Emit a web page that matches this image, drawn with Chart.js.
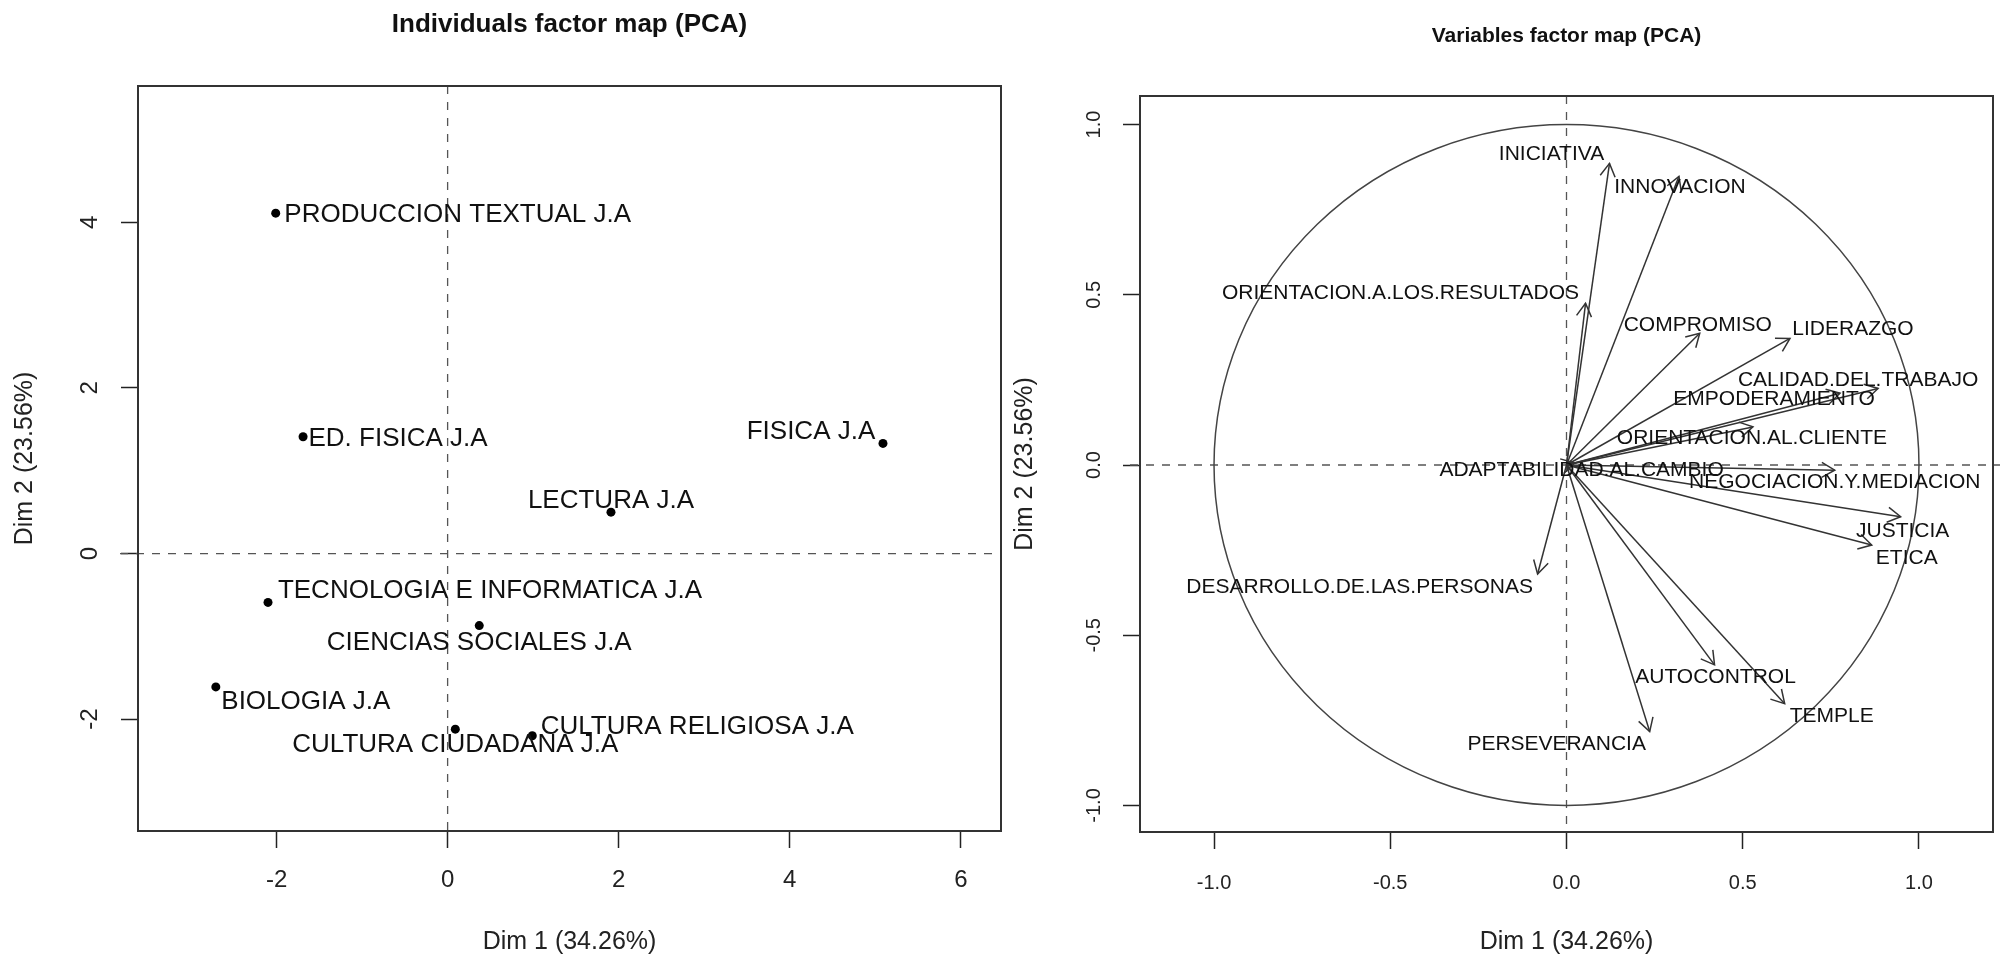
<!DOCTYPE html>
<html>
<head>
<meta charset="utf-8">
<script src="https://cdn.jsdelivr.net/npm/chart.js@4.4.1/dist/chart.umd.min.js"></script>
<style>
  html, body { margin: 0; padding: 0; background: #fff; }
  body { width: 2000px; height: 959px; position: relative; overflow: hidden; }
  .panel { position: absolute; top: 0; }
  #leftPanel { left: 0; }
  #rightPanel { left: 1000px; }
</style>
</head>
<body>
<div class="panel" id="leftPanel"><canvas id="indChart" width="1010" height="959"></canvas></div>
<div class="panel" id="rightPanel"><canvas id="varChart" width="1000" height="959"></canvas></div>
<script>
// individuals (left map)
const indNames = ['PRODUCCION TEXTUAL J.A', 'ED. FISICA J.A', 'FISICA J.A', 'LECTURA J.A',
    'TECNOLOGIA E INFORMATICA J.A', 'CIENCIAS SOCIALES J.A', 'BIOLOGIA J.A',
    'CULTURA CIUDADANA J.A', 'CULTURA RELIGIOSA J.A'];
const indDim1 = [-2.01, -1.69, 5.09, 1.91, -2.10, 0.37, -2.71, 0.09, 0.99];
const indDim2 = [4.11, 1.41, 1.33, 0.50, -0.59, -0.87, -1.61, -2.12, -2.20];
const indXTicks = [-2, 0, 2, 4, 6];
const indYTicks = [-2, 0, 2, 4];

// variables (right map)
const varNames = ['INICIATIVA', 'INNOVACION', 'ORIENTACION.A.LOS.RESULTADOS', 'COMPROMISO',
    'LIDERAZGO', 'CALIDAD.DEL.TRABAJO', 'EMPODERAMIENTO', 'ORIENTACION.AL.CLIENTE',
    'ADAPTABILIDAD.AL.CAMBIO', 'NEGOCIACION.Y.MEDIACION', 'JUSTICIA', 'ETICA',
    'DESARROLLO.DE.LAS.PERSONAS', 'AUTOCONTROL', 'TEMPLE', 'PERSEVERANCIA'];
const varDim1 = [0.122, 0.319, 0.054, 0.378, 0.634, 0.884, 0.776, 0.529,
    0.023, 0.761, 0.948, 0.866, -0.082, 0.420, 0.619, 0.236];
const varDim2 = [0.886, 0.848, 0.475, 0.387, 0.372, 0.225, 0.211, 0.112,
    0.006, -0.015, -0.152, -0.235, -0.320, -0.587, -0.701, -0.783];
const varXTicks = [-1, -0.5, 0, 0.5, 1];
const varYTicks = [-1, -0.5, 0, 0.5, 1];

// label placement, in pixels from the mark
const indLabelShift = [[182, 2], [95, 2], [-72, -12], [0, -11], [222, -12], [0, 17], [90, 15], [0, 16], [165, -9]];
const varLabelShift = [[-58, -9], [1, 11], [-185, -10], [-2, -8], [63, -9], [-20, -8], [-66, 6], [-1, 11],
    [7, 7], [0, 12], [2, 14], [35, 13], [-178, 13], [1, 12], [47, 13], [-93, 13]];

const FONT = '"Liberation Sans", Arial, Helvetica, sans-serif';
const INK = '#222';

function makeDecor(cfg) {
    return {
        id: 'decor',
        beforeDatasetsDraw(chart) {
            const {ctx, chartArea: a, scales: {x, y}} = chart;
            const x0 = x.getPixelForValue(0), y0 = y.getPixelForValue(0);
            ctx.save();
            ctx.strokeStyle = '#555';
            ctx.lineWidth = 1.3;
            ctx.setLineDash([8, 8]);
            ctx.beginPath();
            ctx.moveTo(x0, a.top);
            ctx.lineTo(x0, a.bottom);
            ctx.moveTo(a.left - cfg.hLeft, y0);
            ctx.lineTo(a.right + cfg.hRight, y0);
            ctx.stroke();
            ctx.setLineDash([]);
            if (cfg.circle) {
                const rx = x.getPixelForValue(1) - x0;
                const ry = y0 - y.getPixelForValue(1);
                ctx.strokeStyle = '#444';
                ctx.lineWidth = 1.5;
                ctx.beginPath();
                ctx.ellipse(x0, y0, rx, ry, 0, 0, Math.PI * 2);
                ctx.stroke();
            }
            ctx.restore();
        },
        afterDraw(chart) {
            const {ctx, chartArea: a, scales: {y}} = chart;
            ctx.save();
            // frame
            ctx.strokeStyle = '#333';
            ctx.lineWidth = 2;
            ctx.strokeRect(a.left, a.top, a.right - a.left, a.bottom - a.top);
            // title
            ctx.fillStyle = '#111';
            ctx.textAlign = 'center';
            ctx.textBaseline = 'middle';
            ctx.font = 'bold ' + cfg.titleSize + 'px ' + FONT;
            ctx.fillText(cfg.title, (a.left + a.right) / 2, cfg.titleY);
            // y tick labels, written along the axis
            ctx.fillStyle = INK;
            ctx.font = cfg.tickSize + 'px ' + FONT;
            cfg.yTicks.forEach(v => {
                ctx.save();
                ctx.translate(cfg.yLabelX, y.getPixelForValue(v));
                ctx.rotate(-Math.PI / 2);
                ctx.fillText(cfg.fmt(v), 0, 0);
                ctx.restore();
            });
            // arrow heads
            if (cfg.arrows) {
                ctx.strokeStyle = '#333';
                ctx.lineWidth = 1.5;
                chart.data.datasets.forEach((ds, i) => {
                    const pts = chart.getDatasetMeta(i).data;
                    const p0 = pts[0], p1 = pts[1];
                    const ang = Math.atan2(p1.y - p0.y, p1.x - p0.x);
                    const len = 15, spread = Math.PI / 6;
                    ctx.beginPath();
                    ctx.moveTo(p1.x - len * Math.cos(ang - spread), p1.y - len * Math.sin(ang - spread));
                    ctx.lineTo(p1.x, p1.y);
                    ctx.lineTo(p1.x - len * Math.cos(ang + spread), p1.y - len * Math.sin(ang + spread));
                    ctx.stroke();
                });
            }
            // mark labels
            ctx.fillStyle = '#111';
            ctx.font = cfg.labelSize + 'px ' + FONT;
            cfg.names.forEach((name, i) => {
                const el = cfg.arrows ? chart.getDatasetMeta(i).data[1] : chart.getDatasetMeta(0).data[i];
                const s = cfg.shifts[i];
                ctx.fillText(name, el.x + s[0], el.y + s[1]);
            });
            ctx.restore();
        }
    };
}

function xAxis(min, max, ticks, height, size, pad, fmt) {
    return {
        type: 'linear', position: 'bottom', min: min, max: max,
        afterBuildTicks: s => { s.ticks = ticks.map(v => ({value: v})); },
        afterFit: s => { s.height = height; },
        grid: {drawOnChartArea: false, drawTicks: true, tickLength: 17, tickColor: '#222', tickWidth: 1.5},
        border: {display: false},
        ticks: {font: {family: FONT, size: size}, color: INK, padding: pad, maxRotation: 0, autoSkip: false,
            callback: v => fmt(v)},
        title: {display: true, text: 'Dim 1 (34.26%)', font: {family: FONT, size: 25}, color: INK,
            padding: {top: 0, bottom: 2}}
    };
}

function yAxis(min, max, ticks, width) {
    return {
        type: 'linear', position: 'left', min: min, max: max,
        afterBuildTicks: s => { s.ticks = ticks.map(v => ({value: v})); },
        afterFit: s => { s.width = width; },
        grid: {drawOnChartArea: false, drawTicks: true, tickLength: 17, tickColor: '#222', tickWidth: 1.5},
        border: {display: false},
        ticks: {display: false},
        title: {display: true, text: 'Dim 2 (23.56%)', font: {family: FONT, size: 25}, color: INK,
            padding: {top: 10, bottom: 0}}
    };
}

const common = {
    responsive: false,
    animation: false,
    plugins: {legend: {display: false}, tooltip: {enabled: false}}
};

new Chart(document.getElementById('indChart'), {
    type: 'scatter',
    data: {
        datasets: [{
            data: indDim1.map((v, i) => ({x: v, y: indDim2[i]})),
            pointRadius: 4.5,
            pointBackgroundColor: '#000',
            pointBorderWidth: 0
        }]
    },
    options: Object.assign({}, common, {
        layout: {padding: {top: 86, right: 9, left: 0, bottom: 0}},
        scales: {
            x: xAxis(-3.62, 6.47, indXTicks, 128, 24, 18, v => String(v)),
            y: yAxis(-3.35, 5.645, indYTicks, 138)
        }
    }),
    plugins: [makeDecor({
        title: 'Individuals factor map (PCA)', titleSize: 26, titleY: 25,
        yTicks: indYTicks, yLabelX: 90, tickSize: 24, fmt: v => String(v),
        names: indNames, shifts: indLabelShift, labelSize: 26,
        hLeft: 18, hRight: 0, circle: false, arrows: false
    })]
});

new Chart(document.getElementById('varChart'), {
    type: 'scatter',
    data: {
        datasets: varNames.map((n, i) => ({
            label: n,
            data: [{x: 0, y: 0}, {x: varDim1[i], y: varDim2[i]}],
            showLine: true,
            borderColor: '#333',
            borderWidth: 1.5,
            pointRadius: 0
        }))
    },
    options: Object.assign({}, common, {
        layout: {padding: {top: 96, right: 7, left: 0, bottom: 0}},
        scales: {
            x: xAxis(-1.21, 1.21, varXTicks, 127, 20, 22, v => v.toFixed(1)),
            y: yAxis(-1.078, 1.084, varYTicks, 140)
        }
    }),
    plugins: [makeDecor({
        title: 'Variables factor map (PCA)', titleSize: 21, titleY: 36,
        yTicks: varYTicks, yLabelX: 94, tickSize: 20, fmt: v => v.toFixed(1),
        names: varNames, shifts: varLabelShift, labelSize: 21,
        hLeft: 10, hRight: 7, circle: true, arrows: true
    })]
});
</script>
</body>
</html>
